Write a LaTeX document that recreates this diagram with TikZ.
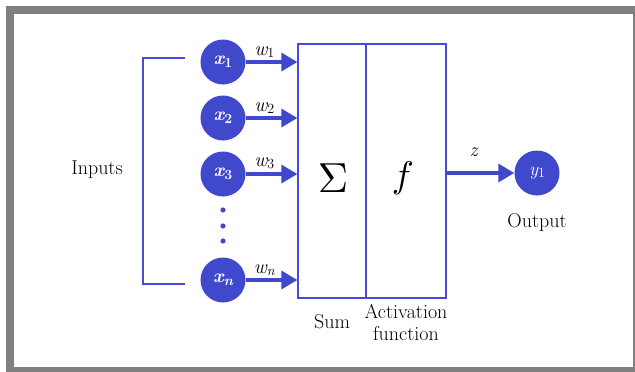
\documentclass[tikz,border=0pt]{standalone}
\usepackage{graphicx}
\usetikzlibrary{arrows.meta,positioning}

\definecolor{nodeBlue}{RGB}{64,72,204}
\definecolor{lineBlue}{RGB}{72,72,220}
\definecolor{frameGray}{RGB}{128,128,128}

\begin{document}
\begin{tikzpicture}[
    x=1pt, y=1pt,
    % Define the style for the input and output neurons
    neuron/.style={
        circle,
        fill=nodeBlue,
        text=white,
        inner sep=0pt,
        minimum size=45pt,
        font=\fontsize{19}{19}\selectfont\bfseries\itshape
    },
    % Define the style for the sum and activation boxes
    unitBox/.style={
        rectangle,
        draw=lineBlue,
        line width=1.3pt,
        inner sep=0pt,
        minimum height=254pt
    },
    % Define the style for the plain labels
    tLabel/.style={
        font=\fontsize{20}{22}\selectfont,
        align=center
    },
    % Define the style for the weight labels
    wLabel/.style={
        font=\fontsize{20}{20}\selectfont\itshape,
        inner sep=1pt
    },
    % Define the style for the thick arrows
    arrowStyle/.style={
        draw=nodeBlue,
        line width=3.5pt,
        -{Triangle[length=16pt,width=18pt]}
    }
]

    \useasboundingbox (0,0) rectangle (635,-372);

    % --- FRAME ---
    \fill[frameGray] (6,-6) rectangle (635,-372);
    \fill[white] (14,-14) rectangle (633,-367);

    % --- BOXES ---
    \node[unitBox, minimum width=68pt] (sum) at (332,-171) {};
    \node[unitBox, minimum width=80pt] (act) at (406,-171) {};
    \node at (333,-178) {\scalebox{4.2}{$\Sigma$}};
    \node at (403,-178) {\scalebox{3.7}{$f$}};

    % --- INPUT NEURONS ---
    % x position of the input column
    \def\inX{223}
    \foreach \name/\y/\sub in {1/62/\upshape 1, 2/118/\upshape 2, 3/174/\upshape 3, n/280/n} {
        \node[neuron] (x\name) at (\inX,-\y)
            {x\raisebox{-3pt}{\fontsize{14}{14}\selectfont\sub}};
        \draw[arrowStyle] (x\name) -- (x\name -| sum.west)
            node[wLabel, pos=0.36, above=2pt]
            {w\raisebox{-2pt}{\fontsize{14}{14}\selectfont\sub}};
    }

    % Vertical dots between x3 and xn
    \foreach \y in {210, 226, 241} {
        \fill[nodeBlue] (\inX,-\y) circle (2.6pt);
    }

    % --- INPUT BRACKET ---
    \coordinate (bTop) at (185,-58);
    \coordinate (bBot) at (185,-284);
    \draw[lineBlue, line width=1.4pt] (bTop) -- ++(-42,0) |- (bBot);
    \node[tLabel] (inputs) at (97,-170) {Inputs};

    % --- OUTPUT ---
    \node[neuron, font=\fontsize{19}{19}\selectfont\itshape] (y1) at (537,-173)
        {y\raisebox{-2pt}{\fontsize{14}{14}\selectfont\upshape 1}};
    \draw[arrowStyle] (act.east |- y1) -- (y1)
        node[wLabel, pos=0.4, above=14pt] {z};
    \node[tLabel, below=14pt of y1] (output) {Output};

    % --- BOX LABELS ---
    \node[tLabel] (sumLabel) at (332,-322) {Sum};
    \node[tLabel] (actLabel) at (406,-323) {Activation\\function};

\end{tikzpicture}
\end{document}
